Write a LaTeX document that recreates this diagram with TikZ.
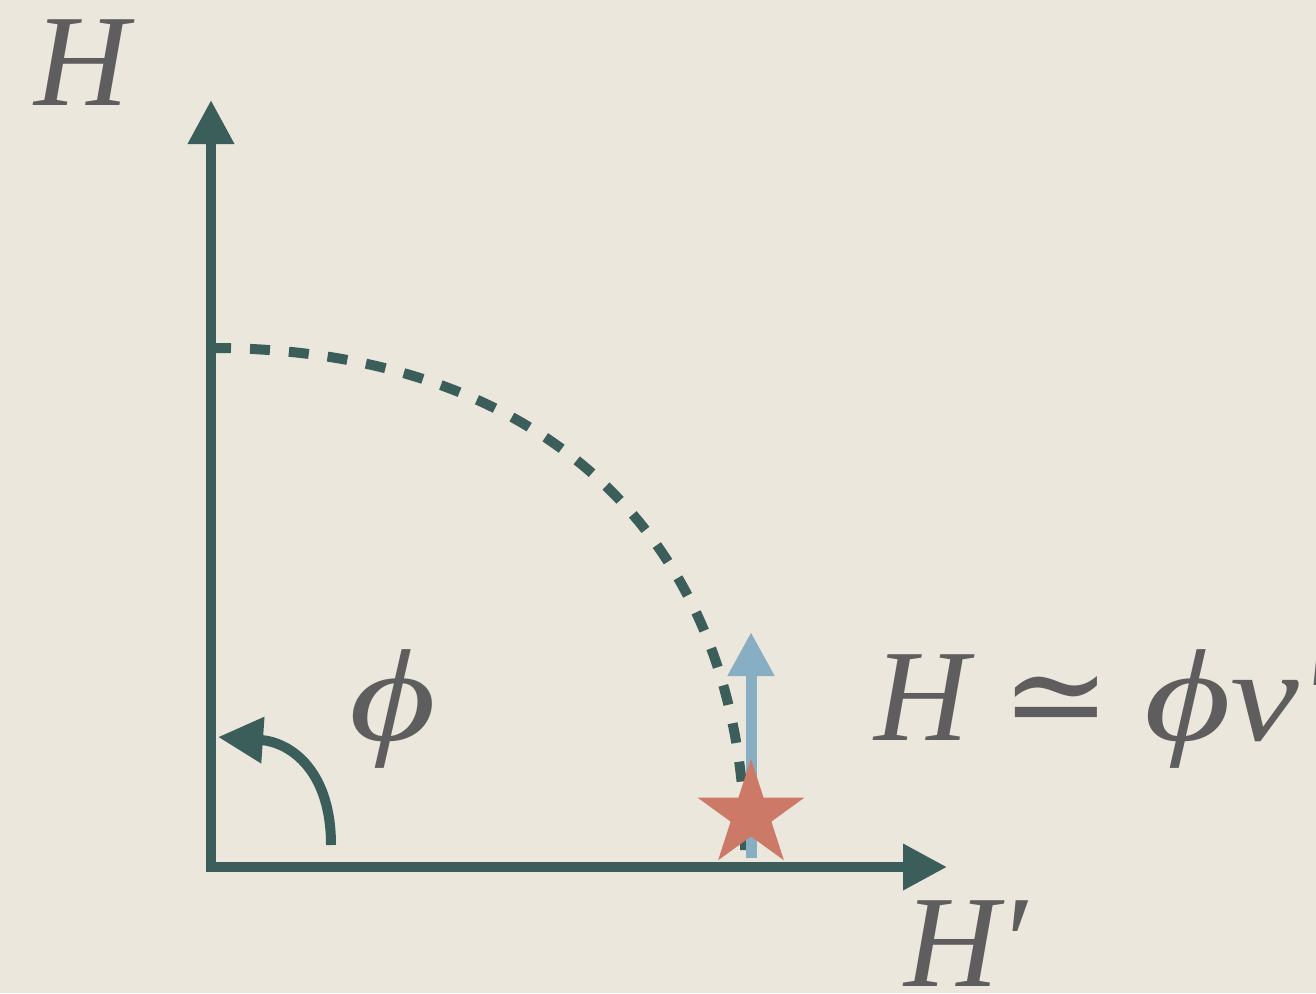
\documentclass[tikz,border=0pt]{standalone}
\usepackage{fontspec}
\usepackage{graphicx}
\setmainfont{Liberation Serif}
\newfontfamily\symf{DejaVu Serif}
\usetikzlibrary{arrows.meta}
\definecolor{bgc}{HTML}{EBE7DD}
\definecolor{axisc}{HTML}{3C5E5B}
\definecolor{bluec}{HTML}{88AEC3}
\definecolor{starc}{HTML}{CC7968}
\definecolor{textc}{HTML}{5E5E5E}
\newcommand{\wphi}{\scalebox{1.28}[1]{ϕ}}
\newcommand{\wv}{\scalebox{1.18}[1]{v}}
\tikzset{
  axis/.style={draw=axisc, line width=10pt},
  bigtip/.style={-{Triangle[length=44pt,width=44pt]}},
  lbl/.style={text=textc, inner sep=0pt, font=\fontsize{131}{133}\selectfont\itshape},
}
\begin{document}
\begin{tikzpicture}[x=1pt,y=-1pt]
\fill[bgc] (0,0) rectangle (1316,993);
\useasboundingbox (0,0) rectangle (1316,993);
\coordinate (o) at (211,867);
\coordinate (ytip) at (211,100);
\coordinate (xtip) at (947,867);
\coordinate (arcstart) at (211,348);
\coordinate (arcend) at (745,850);
\coordinate (bbase) at (751,858);
\coordinate (btip) at (751,632);
\coordinate (pstart) at (331,845);
\coordinate (ptip) at (218,737);
% axes
\draw[axis, line join=miter, {Triangle[length=44pt,width=44pt]}-{Triangle[length=44pt,width=44pt]}] (ytip) -- (o) -- (xtip);
% dashed arc
\draw[axis, dash pattern=on 20pt off 19pt] (arcstart) .. controls (542,348) and (745,539) .. (arcend);
% blue arrow
\draw[draw=bluec, line width=11pt, bigtip] (bbase) -- (btip);
% star (five-pointed, centre (751,815), outer radius 56)
\fill[starc] (751,759) -- (763.6,797.7) -- (804.3,797.7) -- (771.4,821.6) -- (783.9,860.3)
  -- (751,836.4) -- (718.1,860.3) -- (730.6,821.6) -- (697.7,797.7) -- (738.4,797.7) -- cycle;
% phi arrow
\draw[axis, -{Triangle[length=45pt,width=44pt]}] (pstart) .. controls (331,770) and (290,742) .. (ptip);
% labels
\node[lbl, anchor=base west] (hlab) at (34,105) {H};
\node[lbl, anchor=base west] (philab) at (349,740) {\wphi};
\node[lbl, anchor=base west] (eqlab) at (874,740) {H {\upshape\symf ≃} \wphi\wv′};
\node[lbl, anchor=base west] (hplab) at (904,986) {H′};
\end{tikzpicture}
\end{document}
